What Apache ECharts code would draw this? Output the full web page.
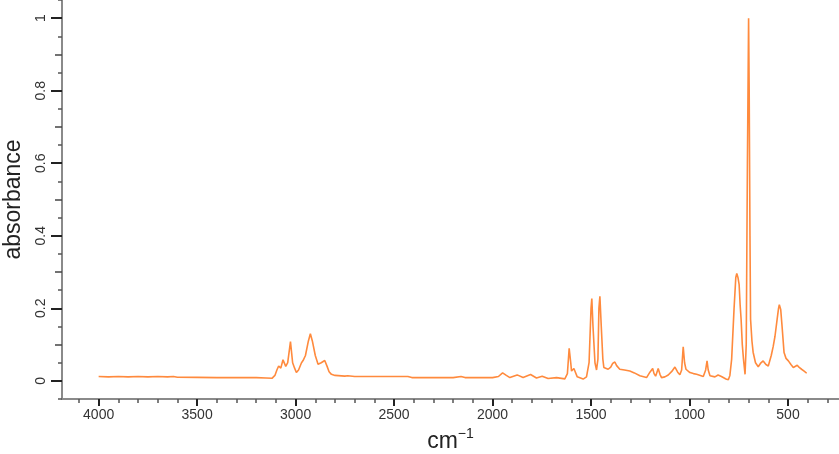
<!DOCTYPE html>
<html><head><meta charset="utf-8">
<script src="https://cdn.jsdelivr.net/npm/echarts@6/dist/echarts.min.js"></script>
<style>html,body{margin:0;padding:0;background:#fff}#c{width:839px;height:454px}</style>
</head><body><div id="c"></div>
<script>
const wavenumber = [4000,3950,3900,3850,3800,3750,3700,3650,3620,3600,3500,3400,3300,3200,3150,3120,3105,3095,3086,3075,3064,3050,3040,3026,3015,3005,2996,2985,2970,2962,2950,2935,2925,2915,2900,2886,2870,2852,2840,2830,2818,2800,2750,2735,2700,2600,2500,2430,2410,2300,2200,2160,2140,2000,1970,1949,1930,1912,1875,1845,1807,1777,1748,1718,1675,1633,1620,1611,1603,1599,1587,1570,1540,1523,1510,1500,1496,1490,1480,1472,1465,1460,1455,1448,1440,1435,1413,1400,1390,1379,1370,1354,1330,1303,1280,1252,1218,1201,1187,1180,1172,1159,1150,1142,1125,1108,1090,1074,1060,1049,1040,1032,1025,1018,998,980,964,945,930,918,911,905,896,871,855,846,838,829,815,803,795,786,774,765,760,754,748,743,738,732,726,718,712,706,700,697,693,690,683,677,665,651,640,626,612,600,585,575,566,555,548,544,537,530,520,510,498,485,473,463,453,443,431,418,405];
const absorbance = [0.012,0.011,0.012,0.011,0.012,0.011,0.012,0.011,0.012,0.010,0.0095,0.009,0.009,0.009,0.008,0.007,0.015,0.030,0.041,0.035,0.058,0.040,0.050,0.108,0.050,0.035,0.023,0.030,0.050,0.056,0.070,0.110,0.130,0.110,0.070,0.046,0.050,0.056,0.040,0.025,0.018,0.015,0.013,0.014,0.012,0.012,0.012,0.012,0.009,0.009,0.009,0.012,0.009,0.009,0.012,0.022,0.015,0.009,0.0165,0.009,0.0175,0.008,0.013,0.0065,0.009,0.0055,0.020,0.090,0.050,0.027,0.034,0.011,0.005,0.011,0.050,0.200,0.227,0.150,0.050,0.030,0.060,0.200,0.233,0.150,0.060,0.037,0.032,0.038,0.048,0.052,0.042,0.032,0.030,0.027,0.022,0.014,0.009,0.024,0.034,0.020,0.013,0.034,0.018,0.009,0.011,0.016,0.026,0.038,0.024,0.017,0.030,0.094,0.050,0.032,0.023,0.020,0.018,0.015,0.012,0.030,0.055,0.030,0.014,0.011,0.016,0.021,0.012,0.009,0.005,0.003,0.015,0.060,0.197,0.285,0.296,0.285,0.265,0.210,0.169,0.100,0.060,0.018,0.100,0.600,1.000,0.800,0.400,0.170,0.110,0.079,0.050,0.039,0.048,0.055,0.045,0.041,0.070,0.095,0.123,0.170,0.200,0.210,0.197,0.150,0.078,0.062,0.055,0.045,0.037,0.040,0.043,0.037,0.032,0.027,0.021];
const xMajorTicks = [500,1000,1500,2000,2500,3000,3500,4000];
const xMinorTicks = [300,400,600,700,800,900,1100,1200,1300,1400,1600,1700,1800,1900,2100,2200,2300,2400,2600,2700,2800,2900,3100,3200,3300,3400,3600,3700,3800,3900,4100];
const yMajorTicks = [0,0.2,0.4,0.6,0.8,1];
const yMidTicks = [0.1,0.3,0.5,0.7,0.9];
const yMinorTicks = [-0.05,0.05,0.15,0.25,0.35,0.45,0.55,0.65,0.75,0.85,0.95,1.05];

const pts = wavenumber.map((w,i)=>[w, absorbance[i]]);
const font = 'Liberation Sans, Arial, sans-serif';
const XMIN = 241, XMAX = 4186, YMIN = -0.05, YMAX = 1.05;
function xa(extra){ return Object.assign({type:'value',min:XMIN,max:XMAX,inverse:true,position:'bottom',splitLine:{show:false},
  axisLine:{show:false,onZero:false},axisLabel:{show:false},axisTick:{show:false}}, extra); }
function ya(extra){ return Object.assign({type:'value',min:YMIN,max:YMAX,position:'left',splitLine:{show:false},
  axisLine:{show:false,onZero:false},axisLabel:{show:false},axisTick:{show:false}}, extra); }

const chart = echarts.init(document.getElementById('c'));
chart.setOption({
  animation:false,
  grid:{left:62,right:0,top:0,bottom:55,containLabel:false,outerBoundsMode:'none'},
  xAxis:[
    xa({axisLine:{show:true,onZero:false,lineStyle:{color:'#8a8a8a',width:2}},
        axisTick:{show:true,length:7,customValues:xMajorTicks,lineStyle:{color:'#222',width:2}},
        axisLabel:{show:true,customValues:xMajorTicks,margin:9,fontSize:14,color:'#333',fontFamily:font,
          formatter:v=>String(v)},
        name:'{a|cm}{b|−1}',nameLocation:'middle',nameGap:28,
        nameTextStyle:{fontFamily:font,color:'#222',verticalAlign:'top',
          rich:{a:{fontSize:23,fontFamily:font,color:'#222',lineHeight:26,verticalAlign:'bottom'},
                b:{fontSize:14,fontFamily:font,color:'#222',verticalAlign:'top',lineHeight:26}}}}),
    xa({axisTick:{show:true,length:4,customValues:xMinorTicks,lineStyle:{color:'#555',width:1.5}}})
  ],
  yAxis:[
    ya({axisLine:{show:true,onZero:false,lineStyle:{color:'#8a8a8a',width:2}},
        axisTick:{show:true,length:11,customValues:yMajorTicks,lineStyle:{color:'#222',width:2}},
        axisLabel:{show:true,customValues:yMajorTicks,rotate:90,margin:14,fontSize:14,color:'#333',fontFamily:font,
          formatter:v=>String(v)},
        name:'absorbance',nameLocation:'middle',nameGap:37,nameRotate:90,
        nameTextStyle:{fontSize:23,fontFamily:font,color:'#222'}}),
    ya({axisTick:{show:true,length:7,customValues:yMidTicks,lineStyle:{color:'#444',width:1.5}}}),
    ya({axisTick:{show:true,length:4,customValues:yMinorTicks,lineStyle:{color:'#555',width:1.5}}})
  ],
  series:[{type:'line',xAxisIndex:0,yAxisIndex:0,data:pts,showSymbol:false,symbol:'none',
    lineStyle:{color:'#ff8a3d',width:1.6},clip:false}]
});
</script></body></html>
